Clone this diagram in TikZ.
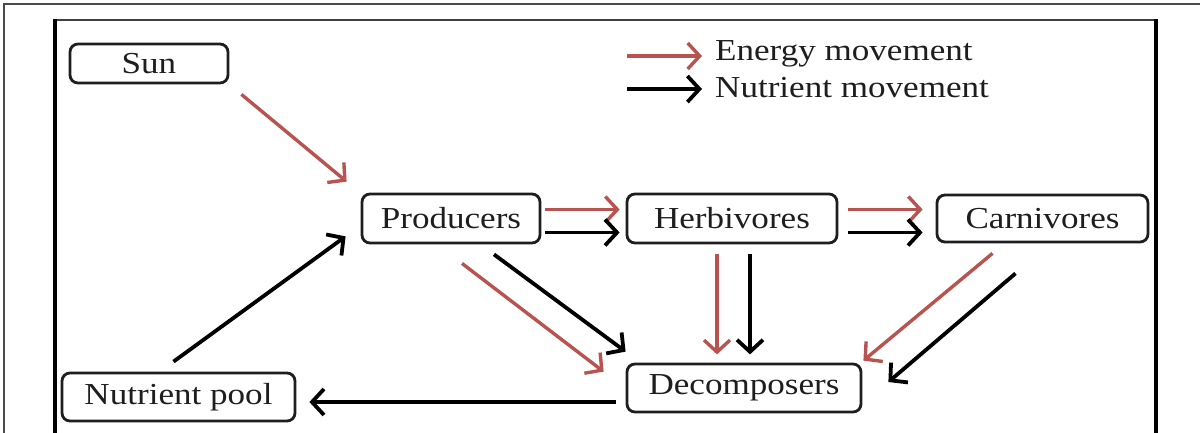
\documentclass[tikz,border=0pt]{standalone}
\usepackage{fontspec}
\setmainfont{Liberation Serif}[FakeStretch=1.15]
\usetikzlibrary{arrows.meta,calc}
\definecolor{energy}{RGB}{183,84,80}
\definecolor{ink}{RGB}{30,30,30}
\tikzset{
  box/.style={draw=ink, line width=2.8pt, rounded corners=8pt, inner sep=0pt,
    font=\fontsize{30.5}{36}\selectfont, text=ink, anchor=center},
  flow/.style={line width=3.8pt, -{Straight Barb[length=12pt,width=26pt]}},
  energyflow/.style={flow, draw=energy, line width=3.4pt},
  nutrientflow/.style={flow, draw=black},
  legendtext/.style={font=\fontsize{30.5}{36}\selectfont, text=ink, anchor=west, inner sep=0pt}
}
\begin{document}
\begin{tikzpicture}[x=1pt,y=-1pt]
\useasboundingbox (0,0) rectangle (1200,432);
% frames
\draw[line width=2pt, draw=black!70] (4,440) -- (4,4) -- (1210,4);
\draw[line width=2.6pt, draw=black!75] (55,20) -- (1156,20);
\draw[line width=4.5pt] (55,18.7) -- (55,440);
\draw[line width=4.5pt] (1156,18.7) -- (1156,440);

% boxes
\node[box, minimum width=158pt, minimum height=39pt] (sun) at (149,63.5) {Sun};
\node[box, minimum width=178pt, minimum height=49pt] (prod) at (451,218.5) {Producers};
\node[box, minimum width=210pt, minimum height=49pt] (herb) at (732,218.5) {Herbivores};
\node[box, minimum width=211pt, minimum height=47pt] (carn) at (1042.5,218.5) {Carnivores};
\node[box, minimum width=234pt, minimum height=48pt] (dec) at (744,388) {Decomposers};
\node[box, minimum width=233pt, minimum height=48pt] (pool) at (178.5,397) {Nutrient pool};

% legend
\coordinate (eA) at (627,56);
\coordinate (eB) at (702,56);
\coordinate (nA) at (627,89);
\coordinate (nB) at (702,89);
\draw[energyflow] (eA) -- (eB);
\draw[nutrientflow] (nA) -- (nB);
\node[legendtext] (eL) at (715,54) {Energy movement};
\node[legendtext] (nL) at (715,88) {Nutrient movement};

% energy flows
\draw[energyflow] ($(sun.south east)+(12,10)$) -- ($(prod.north west)+(-14,-11)$);
\draw[energyflow] ($(prod.east)+(4,-9)$) -- ($(herb.west)+(-6,-9)$);
\draw[energyflow] ($(herb.east)+(10,-9)$) -- ($(carn.west)+(-13,-9)$);
\draw[energyflow] ($(prod.south)+(11,19)$) -- ($(dec.north west)+(-22,9)$);
\draw[energyflow] ($(herb.south)+(-15,10)$) -- ($(herb.south)+(-15,110)$);
\draw[energyflow] ($(carn.south)+(-50,10)$) -- ($(dec.north east)+(1,-2)$);

% nutrient flows
\draw[nutrientflow] ($(prod.east)+(4,14)$) -- ($(herb.west)+(-6,14)$);
\draw[nutrientflow] ($(herb.east)+(10,14)$) -- ($(carn.west)+(-13,14)$);
\draw[nutrientflow] ($(prod.south)+(43,10)$) -- ($(dec.north west)+(0,-11)$);
\draw[nutrientflow] ($(herb.south)+(18,10)$) -- ($(herb.south)+(18,110)$);
\draw[nutrientflow] ($(carn.south)+(-27,30)$) -- ($(dec.east)+(26,-6)$);
\draw[nutrientflow] ($(dec.west)+(-10,14)$) -- ($(pool.east)+(13,5)$);
\draw[nutrientflow] ($(pool.north)+(-5,-10)$) -- ($(prod.south west)+(-15,-8)$);
\end{tikzpicture}
\end{document}
